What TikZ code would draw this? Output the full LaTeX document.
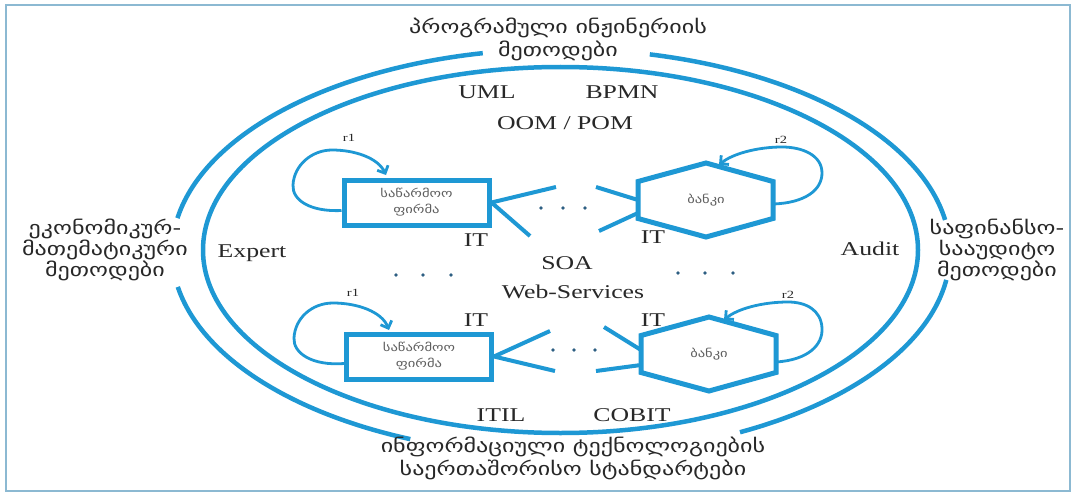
\documentclass[tikz,border=0pt]{standalone}
\usepackage{fontspec}
\setmainfont{Liberation Serif}[FakeStretch=1.32]
\newfontfamily\geo{DejaVu Sans}[FakeStretch=1.3]
\usetikzlibrary{arrows.meta}
\definecolor{cblue}{RGB}{30,152,212}
\definecolor{ctext}{RGB}{40,40,40}
\definecolor{cgray}{RGB}{95,95,95}
\definecolor{cframe}{RGB}{140,185,210}
\definecolor{cdot}{RGB}{45,95,130}
\begin{document}
\begin{tikzpicture}[x=1pt,y=-1pt,
  ring/.style={cblue,line width=4.5pt},
  shapeline/.style={cblue,line width=5pt,line join=miter},
  conn/.style={cblue,line width=4pt},
  loopline/.style={cblue,line width=2.8pt,-{Straight Barb[length=6pt,width=12pt]}},
  lbl/.style={text=ctext,font=\fontsize{19.5}{22}\selectfont,inner sep=0pt,text height=12.9pt,text depth=0pt},
  rlbl/.style={text=ctext,font=\fontsize{11}{12}\selectfont,inner sep=0pt},
  geotxt/.style={text=ctext,font=\geo\fontsize{18.5}{19.5}\selectfont,align=center,inner sep=0pt},
  geowide/.style={text=ctext,font=\geo\fontsize{18.5}{23}\selectfont,align=center,inner sep=0pt},
  smalltxt/.style={text=cgray,font=\geo\fontsize{11.2}{16}\selectfont,align=center,inner sep=0pt},
  firmbox/.style={draw=cblue,line width=5pt,minimum width=145pt,minimum height=45pt,inner sep=0pt,
    text=cgray,font=\geo\fontsize{11.2}{16}\selectfont,align=center},
  dotc/.style={fill=cdot}
]
\useasboundingbox (0,0) rectangle (1074,495);
\fill[white] (0,0) rectangle (1074,495);
\draw[cframe,line width=1.5pt] (6,5) rectangle (1070,491);

% outer ring with gaps
\draw[ring] plot[domain=-76.8:-9.1,samples=60] ({561+389*cos(\x)},{252+203*sin(\x)});
\draw[ring] plot[domain=7.9:62.6,samples=60] ({561+389*cos(\x)},{252+203*sin(\x)});
\draw[ring] plot[domain=112.8:170.1,samples=60] ({561+389*cos(\x)},{252+203*sin(\x)});
\draw[ring] plot[domain=189.6:258.4,samples=60] ({561+389*cos(\x)},{252+203*sin(\x)});
% inner ring
\draw[ring] (560.5,250) ellipse[x radius=357.5,y radius=183];

% outer texts
\node[geowide] (ttop) at (558,39.5) {პროგრამული ინჟინერიის\\მეთოდები};
\node[geotxt] (tleft) at (105,250) {ეკონომიკურ-\\მათემატიკური\\მეთოდები};
\node[geotxt] (tright) at (997,250) {საფინანსო-\\სააუდიტო\\მეთოდები};
\node[geowide] (tbot) at (573,458.5) {ინფორმაციული ტექნოლოგიების\\საერთაშორისო სტანდარტები};

% labels
\node[lbl] (uml) at (487,92) {UML};
\node[lbl] (bpmn) at (622,92) {BPMN};
\node[lbl] (oom) at (565,123) {OOM / POM};
\node[lbl] (expert) at (252,251) {Expert};
\node[lbl] (audit) at (870,249) {Audit};
\node[lbl] (soa) at (567,263) {SOA};
\node[lbl] (web) at (573,292) {Web-Services};
\node[lbl] (itil) at (501,415) {ITIL};
\node[lbl] (cobit) at (632,415) {COBIT};
\node[lbl] (it1) at (476,240) {IT};
\node[lbl] (it2) at (653,237) {IT};
\node[lbl] (it3) at (476,320) {IT};
\node[lbl] (it4) at (653,320) {IT};
\node[rlbl] (r1a) at (349,138) {r1};
\node[rlbl] (r2a) at (781,140) {r2};
\node[rlbl] (r1b) at (353,293) {r1};
\node[rlbl] (r2b) at (788,295) {r2};

% firms
\node[firmbox] (f1) at (416.5,202.5) {საწარმოო\\ფირმა};
\node[firmbox] (f2) at (419,356.5) {საწარმოო\\ფირმა};

% banks
\node[smalltxt] (b1) at (706,200) {ბანკი};
\draw[shapeline] (b1.center) ++(0,-37) -- ++(67,18.5) -- ++(0,37) -- ++(-67,18.5) -- ++(-68,-18.5) -- ++(0,-37) -- cycle;
\node[smalltxt] (b2) at (709,354) {ბანკი};
\draw[shapeline] (b2.center) ++(0,-37) -- ++(67,18.5) -- ++(0,37) -- ++(-67,18.5) -- ++(-68,-18.5) -- ++(0,-37) -- cycle;

% broken connectors top
\coordinate (t1) at (556,187);
\coordinate (t2) at (530,236);
\coordinate (t3) at (596,187);
\coordinate (t4) at (638,200);
\coordinate (t5) at (599,231);
\coordinate (t6) at (638,213);
\draw[conn] (f1.east) -- (t1);
\draw[conn] (f1.east) -- (t2);
\draw[conn] (t3) -- (t4);
\draw[conn] (t5) -- (t6);
% broken connectors bottom
\coordinate (u1) at (550,331);
\coordinate (u2) at (555,371);
\coordinate (u3) at (604,327);
\coordinate (u4) at (641,350);
\coordinate (u5) at (596,371);
\coordinate (u6) at (641,365);
\draw[conn] (f2.east) -- (u1);
\draw[conn] (f2.east) -- (u2);
\draw[conn] (u3) -- (u4);
\draw[conn] (u5) -- (u6);

% dots
\foreach \px/\py in {541/208,563/208,585/208,396/275,423/275,451/275,678/273,705/273,733/273,553/350,574/350,595/350}
  \fill[dotc] (\px,\py) circle[radius=1.8];

% loops
\coordinate (la) at (386,175);
\draw[loopline] ([yshift=-8pt]f1.west) .. controls (310,212) and (292,200) .. (293,185)
  .. controls (294,165) and (312,150) .. (332,150) .. controls (355,150) and (378,158) .. (la);
\coordinate (lb) at (719,165);
\draw[loopline] (773,204) .. controls (805,203) and (822,190) .. (822,173)
  .. controls (822,155) and (802,147) .. (782,147) .. controls (757,147) and (732,154) .. (lb);
\coordinate (lc) at (389,330);
\draw[loopline] ([yshift=-7pt]f2.west) .. controls (312,366) and (293,353) .. (294,338)
  .. controls (295,318) and (312,303) .. (333,303) .. controls (358,303) and (382,312) .. (lc);
\coordinate (ld) at (724,320);
\draw[loopline] (776,362) .. controls (808,360) and (823,345) .. (822,328)
  .. controls (821,310) and (806,302) .. (788,302) .. controls (762,302) and (737,309) .. (ld);
\end{tikzpicture}
\end{document}
